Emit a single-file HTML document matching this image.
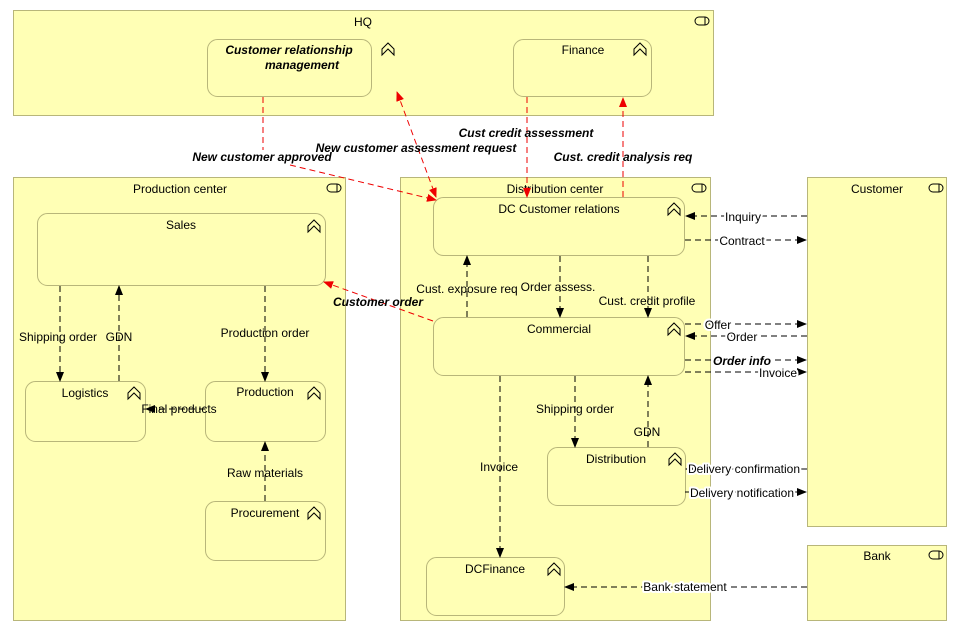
<!DOCTYPE html>
<html><head><meta charset="utf-8"><style>
html,body{margin:0;padding:0;background:#fff;}
svg{display:block;font-family:"Liberation Sans",sans-serif;font-size:12px;}
.h{stroke:#fff;stroke-width:4;paint-order:stroke;stroke-linejoin:round;}
</style></head><body>
<svg width="960" height="634" viewBox="0 0 960 634" xmlns="http://www.w3.org/2000/svg">
<defs>
<marker id="ab" markerWidth="10" markerHeight="8" refX="9" refY="4" orient="auto" markerUnits="userSpaceOnUse"><path d="M0,0 L10,4 L0,8 z" fill="#000"/></marker>
<marker id="ar" markerWidth="10" markerHeight="8" refX="9" refY="4" orient="auto" markerUnits="userSpaceOnUse"><path d="M0,0 L10,4 L0,8 z" fill="#e00"/></marker>
<marker id="arS" markerWidth="10" markerHeight="8" refX="1" refY="4" orient="auto" markerUnits="userSpaceOnUse"><path d="M10,0 L0,4 L10,8 z" fill="#e00"/></marker>
<g id="cap"><path d="M0,6 L6,0 L12,6 L12,12 L6,6 L0,12 z" fill="none" stroke="#000" stroke-width="1"/></g>
<g id="tog"><rect x="0" y="0" width="14" height="8" rx="4" fill="none" stroke="#000"/><line x1="10" y1="0" x2="10" y2="8" stroke="#000"/></g>
</defs>
<g fill="#ffffb5" stroke="#b8b67a" stroke-width="1">
<rect x="13.5" y="10.5" width="700" height="105"/>
<rect x="13.5" y="177.5" width="332" height="443"/>
<rect x="400.5" y="177.5" width="310" height="443"/>
<rect x="807.5" y="177.5" width="139" height="349"/>
<rect x="807.5" y="545.5" width="139" height="75"/>
<rect x="207.5" y="39.5" width="164" height="57" rx="10"/>
<rect x="513.5" y="39.5" width="138" height="57" rx="10"/>
<rect x="37.5" y="213.5" width="288" height="72" rx="10"/>
<rect x="25.5" y="381.5" width="120" height="60" rx="10"/>
<rect x="205.5" y="381.5" width="120" height="60" rx="10"/>
<rect x="205.5" y="501.5" width="120" height="59" rx="10"/>
<rect x="433.5" y="197.5" width="251" height="58" rx="10"/>
<rect x="433.5" y="317.5" width="251" height="58" rx="10"/>
<rect x="547.5" y="447.5" width="138" height="58" rx="10"/>
<rect x="426.5" y="557.5" width="138" height="58" rx="10"/>
</g>
<use href="#tog" x="695" y="17"/><use href="#tog" x="327" y="184"/><use href="#tog" x="692" y="184"/><use href="#tog" x="929" y="184"/><use href="#tog" x="929" y="551"/>
<use href="#cap" x="382" y="43"/><use href="#cap" x="634" y="43"/><use href="#cap" x="308" y="220"/><use href="#cap" x="128" y="387"/><use href="#cap" x="308" y="387"/><use href="#cap" x="308" y="507"/><use href="#cap" x="668" y="203"/><use href="#cap" x="668" y="323"/><use href="#cap" x="669" y="453"/><use href="#cap" x="548" y="563"/>
<g text-anchor="middle" fill="#000">
<text x="363" y="26">HQ</text>
<text x="180" y="193">Production center</text>
<text x="555" y="193">Distribution center</text>
<text x="877" y="193">Customer</text>
<text x="877" y="560">Bank</text>
<text x="289" y="54" font-weight="bold" font-style="italic">Customer relationship</text>
<text x="302" y="69" font-weight="bold" font-style="italic">management</text>
<text x="583" y="54">Finance</text>
<text x="181" y="229">Sales</text>
<text x="85" y="397">Logistics</text>
<text x="265" y="396">Production</text>
<text x="265" y="517">Procurement</text>
<text x="559" y="213">DC Customer relations</text>
<text x="559" y="333">Commercial</text>
<text x="616" y="463">Distribution</text>
<text x="495" y="573">DCFinance</text>
</g>
<g fill="none" stroke-dasharray="6,4" stroke-width="1">
<g stroke="#e00">
<path d="M263,97 L263,150"/>
<path d="M290,165 L436,200" marker-end="url(#ar)"/>
<path d="M397,92 L436,197" marker-end="url(#ar)" marker-start="url(#arS)"/>
<path d="M527,97 L527,197" marker-end="url(#ar)"/>
<path d="M623,197 L623,98" marker-end="url(#ar)"/>
<path d="M433,321 L324,282" marker-end="url(#ar)"/>
</g>
<g stroke="#000">
<path d="M60,286 L60,381" marker-end="url(#ab)"/>
<path d="M119,381 L119,286" marker-end="url(#ab)"/>
<path d="M265,286 L265,381" marker-end="url(#ab)"/>
<path d="M265,501 L265,442" marker-end="url(#ab)"/>
<path d="M467,317 L467,256" marker-end="url(#ab)"/>
<path d="M560,256 L560,317" marker-end="url(#ab)"/>
<path d="M648,256 L648,317" marker-end="url(#ab)"/>
<path d="M807,216 L686,216" marker-end="url(#ab)"/>
<path d="M685,240 L806,240" marker-end="url(#ab)"/>
<path d="M685,324 L806,324" marker-end="url(#ab)"/>
<path d="M807,336 L686,336" marker-end="url(#ab)"/>
<path d="M685,360 L806,360" marker-end="url(#ab)"/>
<path d="M685,372 L806,372" marker-end="url(#ab)"/>
<path d="M575,376 L575,447" marker-end="url(#ab)"/>
<path d="M648,447 L648,376" marker-end="url(#ab)"/>
<path d="M500,376 L500,557" marker-end="url(#ab)"/>
<path d="M807,469 L686,469" marker-end="url(#ab)"/>
<path d="M685,492 L806,492" marker-end="url(#ab)"/>
<path d="M807,587 L565,587" marker-end="url(#ab)"/>
<path d="M205,409 L146,409" marker-end="url(#ab)"/>
</g>
</g>
<g text-anchor="middle" fill="#000">
<text x="262" y="161" font-weight="bold" font-style="italic">New customer approved</text>
<text x="416" y="152" font-weight="bold" font-style="italic">New customer assessment request</text>
<text x="526" y="137" font-weight="bold" font-style="italic">Cust credit assessment</text>
<text x="623" y="161" font-weight="bold" font-style="italic">Cust. credit analysis req</text>
<text x="378" y="306" font-weight="bold" font-style="italic">Customer order</text>
<text x="58" y="341">Shipping order</text>
<text x="119" y="341">GDN</text>
<text x="265" y="337">Production order</text>
<text x="179" y="413">Final products</text>
<text x="265" y="477">Raw materials</text>
<text x="467" y="293">Cust. exposure req</text>
<text x="558" y="291">Order assess.</text>
<text x="647" y="305">Cust. credit profile</text>
<text class="h" x="743" y="221">Inquiry</text>
<text class="h" x="742" y="245">Contract</text>
<text class="h" x="718" y="329">Offer</text>
<text class="h" x="742" y="341">Order</text>
<text class="h" x="742" y="365" font-weight="bold" font-style="italic">Order info</text>
<text class="h" x="778" y="377">Invoice</text>
<text x="575" y="413">Shipping order</text>
<text x="647" y="436">GDN</text>
<text x="499" y="471">Invoice</text>
<text class="h" x="744" y="473">Delivery confirmation</text>
<text class="h" x="742" y="497">Delivery notification</text>
<text class="h" x="685" y="591">Bank statement</text>
</g>
</svg>
</body></html>
